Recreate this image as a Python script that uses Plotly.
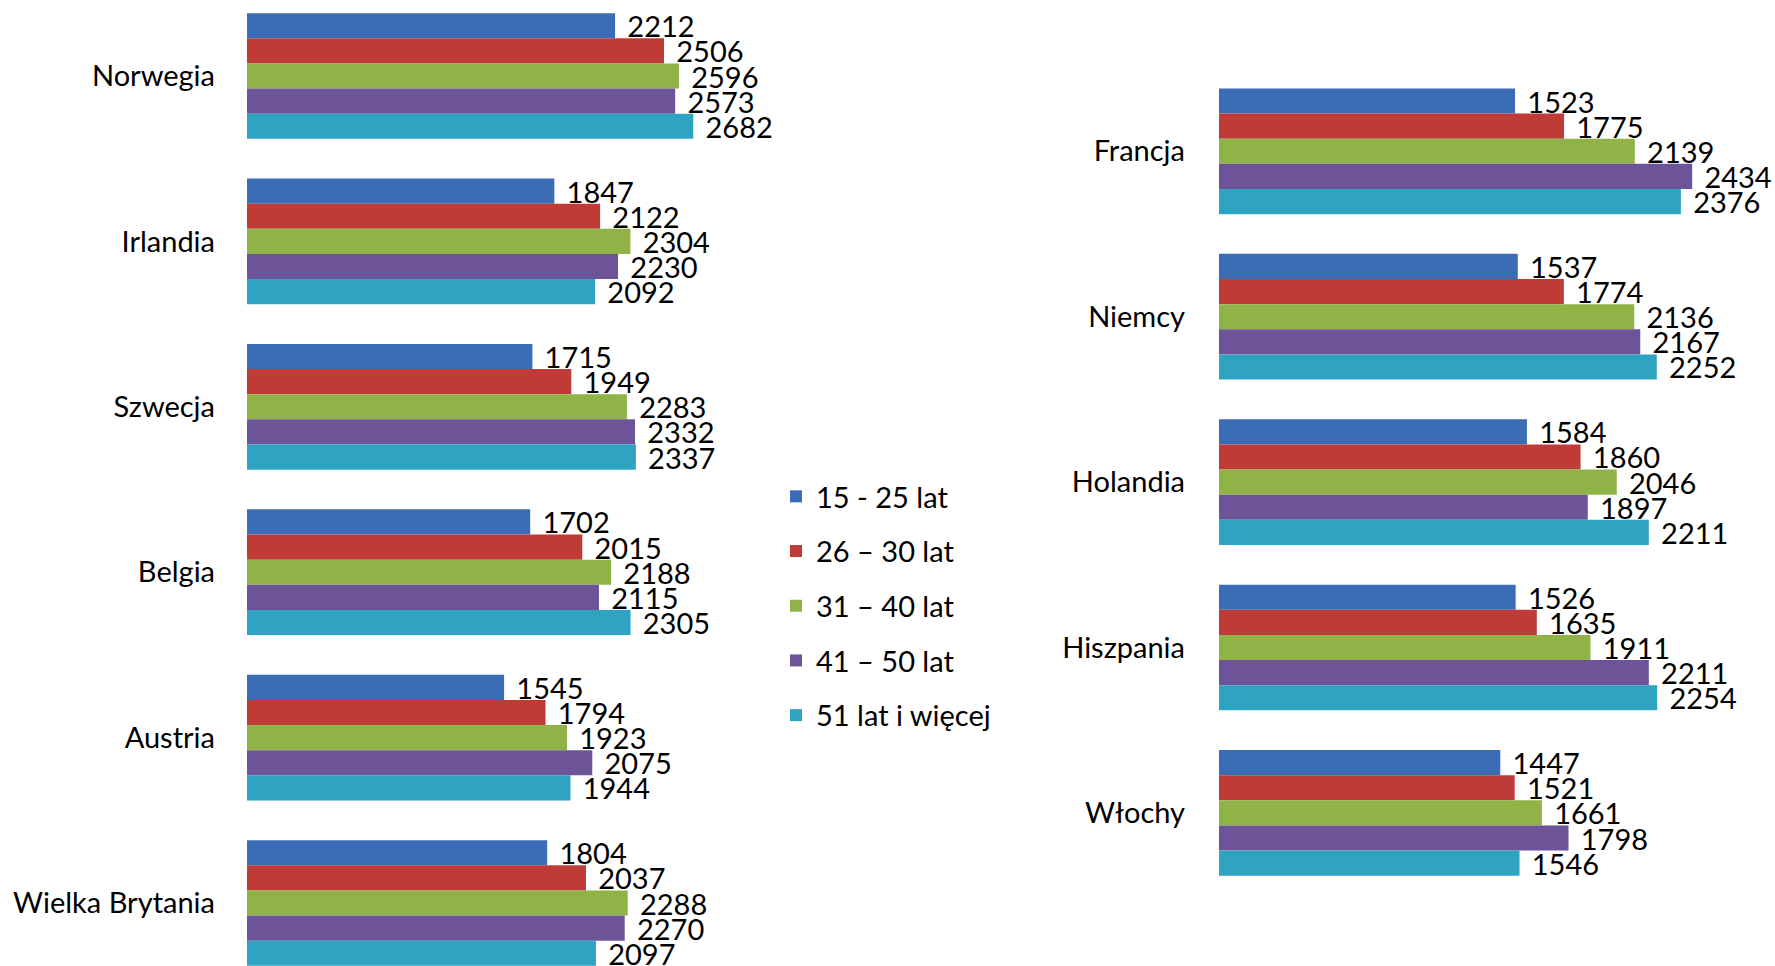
import plotly.graph_objects as go

# ---- data ----
series_names = ["15 - 25 lat", "26 – 30 lat", "31 – 40 lat", "41 – 50 lat", "51 lat i więcej"]
colors = ["#3A6DB5", "#BE3B38", "#8FB347", "#6D5498", "#2FA4C2"]

left_countries = ["Norwegia", "Irlandia", "Szwecja", "Belgia", "Austria", "Wielka Brytania"]
left_15_25 = [2212, 1847, 1715, 1702, 1545, 1804]
left_26_30 = [2506, 2122, 1949, 2015, 1794, 2037]
left_31_40 = [2596, 2304, 2283, 2188, 1923, 2288]
left_41_50 = [2573, 2230, 2332, 2115, 2075, 2270]
left_51_plus = [2682, 2092, 2337, 2305, 1944, 2097]

right_countries = ["Francja", "Niemcy", "Holandia", "Hiszpania", "Włochy"]
right_15_25 = [1523, 1537, 1584, 1526, 1447]
right_26_30 = [1775, 1774, 1860, 1635, 1521]
right_31_40 = [2139, 2136, 2046, 1911, 1661]
right_41_50 = [2434, 2167, 1897, 2211, 1798]
right_51_plus = [2376, 2252, 2211, 2254, 1546]

left_series = [left_15_25, left_26_30, left_31_40, left_41_50, left_51_plus]
right_series = [right_15_25, right_26_30, right_31_40, right_41_50, right_51_plus]

W, H = 1775, 966
FONT = "Lato"
FS = 29

fig = go.Figure()

for i, (name, col) in enumerate(zip(series_names, colors)):
    fig.add_trace(go.Bar(
        x=left_series[i], y=list(range(len(left_countries))), orientation="h",
        name=name, legendgroup=f"g{i}", marker=dict(color=col, line=dict(width=0)),
        text=[f"\u00a0\u200a{v}" for v in left_series[i]], textposition="outside",
        constraintext="none", cliponaxis=False,
        textfont=dict(family=FONT, size=FS, color="black"),
        xaxis="x", yaxis="y", showlegend=True,
    ))
    fig.add_trace(go.Bar(
        x=right_series[i], y=list(range(len(right_countries))), orientation="h",
        name=name, legendgroup=f"g{i}", marker=dict(color=col, line=dict(width=0)),
        text=[f"\u00a0\u200a{v}" for v in right_series[i]], textposition="outside",
        constraintext="none", cliponaxis=False,
        textfont=dict(family=FONT, size=FS, color="black"),
        xaxis="x2", yaxis="y2", showlegend=False,
    ))

band = 165.4
l_center0 = 76.0
r_center0 = 151.3
l_range = [(H - l_center0) / band, -l_center0 / band]
r_range = [(H - r_center0) / band, -r_center0 / band]

l_x0, l_x1 = 247, 887
r_x0, r_x1 = 1219, 1775
l_scale = 0.1664
r_scale = 0.1944

axis_common = dict(showgrid=False, zeroline=False, showline=False, ticks="",
                   tickfont=dict(family=FONT, size=FS, color="black"))

fig.update_layout(
    width=W, height=H,
    margin=dict(l=0, r=0, t=0, b=0),
    paper_bgcolor="white", plot_bgcolor="white",
    barmode="group", bargap=0.24, bargroupgap=0,
    font=dict(family=FONT, size=FS, color="black"),
    xaxis=dict(domain=[l_x0 / W, l_x1 / W], range=[0, (l_x1 - l_x0) / l_scale],
               showticklabels=False, **axis_common),
    yaxis=dict(domain=[0, 1], range=l_range, tickmode="array",
               tickvals=list(range(len(left_countries))), ticktext=left_countries,
               ticklabelstandoff=31, anchor="x", **axis_common),
    xaxis2=dict(domain=[r_x0 / W, r_x1 / W], range=[0, (r_x1 - r_x0) / r_scale],
                showticklabels=False, anchor="y2", **axis_common),
    yaxis2=dict(domain=[0, 1], range=r_range, tickmode="array",
                tickvals=list(range(len(right_countries))), ticktext=right_countries,
                ticklabelstandoff=33, anchor="x2", **axis_common),
    legend=dict(x=776 / W, xanchor="left", y=1 - 606 / H, yanchor="middle",
                font=dict(family=FONT, size=FS, color="black"),
                tracegroupgap=14, bgcolor="rgba(0,0,0,0)"),
    showlegend=True,
)

fig.write_html("out.html", config={"displayModeBar": False},
               post_script="document.body.style.margin='0';document.body.style.overflow='hidden';")
